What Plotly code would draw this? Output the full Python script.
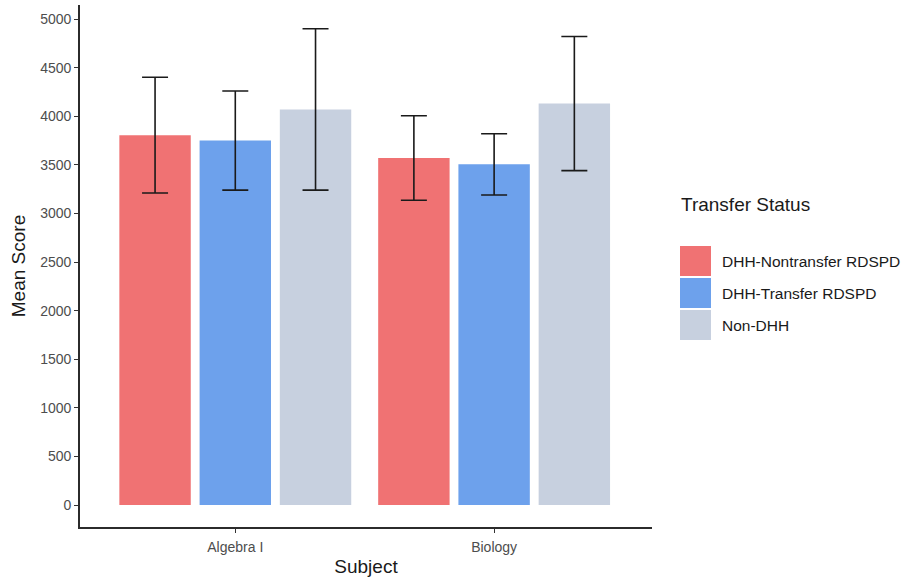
import plotly.graph_objects as go

# Mean scores by subject and transfer status, with ±1 SD error bars
subjects = ["Algebra I", "Biology"]
groups = ["DHH-Nontransfer RDSPD", "DHH-Transfer RDSPD", "Non-DHH"]
mean_nontransfer = [3805, 3570]
mean_transfer = [3750, 3505]
mean_non_dhh = [4070, 4130]
sd_nontransfer = [595, 435]
sd_transfer = [510, 315]
sd_non_dhh = [830, 690]
y_ticks = [0, 500, 1000, 1500, 2000, 2500, 3000, 3500, 4000, 4500, 5000]

colors = ["#F07273", "#6DA1EC", "#C7D0DF"]
means = [mean_nontransfer, mean_transfer, mean_non_dhh]
sds = [sd_nontransfer, sd_transfer, sd_non_dhh]

FONT = "Liberation Sans, Arial, sans-serif"
W, H = 912, 581
ML, MR, MT, MB = 80, 260, 5, 54
PW, PH = W - ML - MR, H - MT - MB

fig = go.Figure()
for name, m, s, c in zip(groups, means, sds, colors):
    fig.add_trace(go.Bar(
        x=subjects, y=m, name=name, marker_color=c, marker_line_width=0,
        error_y=dict(type="data", array=s, visible=True, color="#1a1a1a",
                     thickness=1.6, width=13),
        showlegend=False,
    ))


def paper_x(px):
    return (px - ML) / PW


def paper_y(py):
    return (H - MB - py) / PH


# Legend drawn with large square keys
shapes = []
annotations = [dict(text="Transfer Status", xref="paper", yref="paper",
                    x=paper_x(679), y=paper_y(204),
                    xanchor="left", yanchor="middle", showarrow=False,
                    font=dict(size=19, color="#1a1a1a", family=FONT))]
key_tops = [246, 278, 310]
for top, name, c in zip(key_tops, groups, colors):
    shapes.append(dict(type="rect", xref="paper", yref="paper",
                       x0=paper_x(680), x1=paper_x(711),
                       y0=paper_y(top + 30), y1=paper_y(top),
                       fillcolor=c, line=dict(width=0)))
    annotations.append(dict(text=name, xref="paper", yref="paper",
                            x=paper_x(720), y=paper_y(top + 15),
                            xanchor="left", yanchor="middle", showarrow=False,
                            font=dict(size=15.5, color="#1a1a1a", family=FONT)))

fig.update_layout(
    barmode="group", bargap=0.07, bargroupgap=0.11,
    width=W, height=H,
    margin=dict(l=ML, r=MR, t=MT, b=MB),
    plot_bgcolor="white", paper_bgcolor="white",
    font=dict(family=FONT, color="#222"),
    shapes=shapes, annotations=annotations,
)

fig.update_xaxes(
    range=[-0.6, 1.61], showline=True, linecolor="#2b2b2b", linewidth=1.6,
    ticks="outside", ticklen=4, tickcolor="#333", tickwidth=1.2,
    ticklabelstandoff=2,
    tickfont=dict(size=14, color="#4d4d4d", family=FONT),
    title=dict(text="Subject", font=dict(size=19, color="#1a1a1a", family=FONT), standoff=6),
    showgrid=False, zeroline=False,
)
fig.update_yaxes(
    range=[-226, 5144], tickvals=y_ticks, showline=True, linecolor="#2b2b2b",
    linewidth=1.6, ticks="outside", ticklen=4, tickcolor="#333", tickwidth=1.2,
    tickfont=dict(size=14, color="#4d4d4d", family=FONT),
    title=dict(text="Mean Score", font=dict(size=19, color="#1a1a1a", family=FONT), standoff=10),
    showgrid=False, zeroline=False,
)

fig.write_html("out.html")
